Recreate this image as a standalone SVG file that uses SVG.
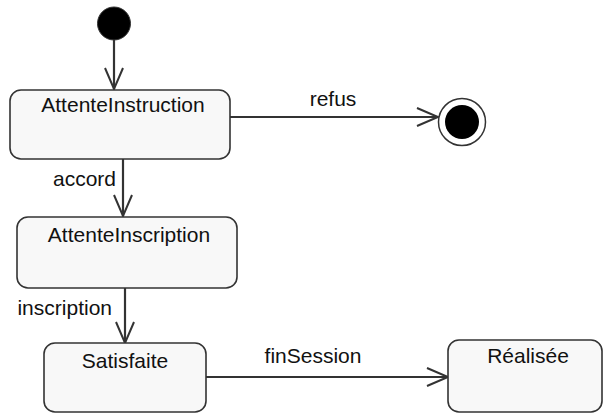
<svg xmlns="http://www.w3.org/2000/svg" width="603" height="415" viewBox="0 0 603 415">
<defs>
<marker id="open" markerUnits="userSpaceOnUse" markerWidth="30" markerHeight="30" refX="22" refY="10" orient="auto" viewBox="0 0 30 20">
<path d="M1,1 L22,10 L1,19" fill="none" stroke="#333" stroke-width="2"/>
</marker>
<style>
.st{fill:#f8f8f8;stroke:#333;stroke-width:1.6}
.t{font-family:"Liberation Sans",Arial,sans-serif;font-size:21px;fill:#111}
.c{fill:none;stroke:#333;stroke-width:2.2}
</style>
</defs>
<rect width="603" height="415" fill="#fff"/>
<g id="connectors">
<line class="c" x1="114" y1="40" x2="114" y2="89" marker-end="url(#open)"/>
<line class="c" x1="230" y1="117" x2="438" y2="117" marker-end="url(#open)"/>
<line class="c" x1="123" y1="159" x2="123" y2="216" marker-end="url(#open)"/>
<line class="c" x1="125" y1="288" x2="125" y2="343" marker-end="url(#open)"/>
<line class="c" x1="206" y1="377" x2="448" y2="377" marker-end="url(#open)"/>
<text class="t" x="333" y="106" text-anchor="middle">refus</text>
<text class="t" x="116" y="186" text-anchor="end">accord</text>
<text class="t" x="112" y="315" text-anchor="end">inscription</text>
<text class="t" x="313" y="363" text-anchor="middle">finSession</text>
</g>
<g id="initial">
<circle cx="114" cy="23.5" r="16.5" fill="#000" stroke="#333" stroke-width="1"/>
</g>
<g id="final">
<circle cx="462" cy="122" r="23.5" fill="#fff" stroke="#333" stroke-width="1.5"/>
<circle cx="462" cy="122" r="17" fill="#000"/>
</g>
<g id="AttenteInstruction">
<rect class="st" x="10" y="90" width="220" height="69" rx="11"/>
<text class="t" x="123" y="112" text-anchor="middle">AttenteInstruction</text>
</g>
<g id="AttenteInscription">
<rect class="st" x="17" y="217" width="220" height="71" rx="11"/>
<text class="t" x="129" y="242" text-anchor="middle">AttenteInscription</text>
</g>
<g id="Satisfaite">
<rect class="st" x="44" y="343" width="162" height="69" rx="11"/>
<text class="t" x="125" y="368" text-anchor="middle">Satisfaite</text>
</g>
<g id="Realisee">
<rect class="st" x="448" y="340" width="154" height="72" rx="11"/>
<text class="t" x="528" y="363" text-anchor="middle">Réalisée</text>
</g>
</svg>
